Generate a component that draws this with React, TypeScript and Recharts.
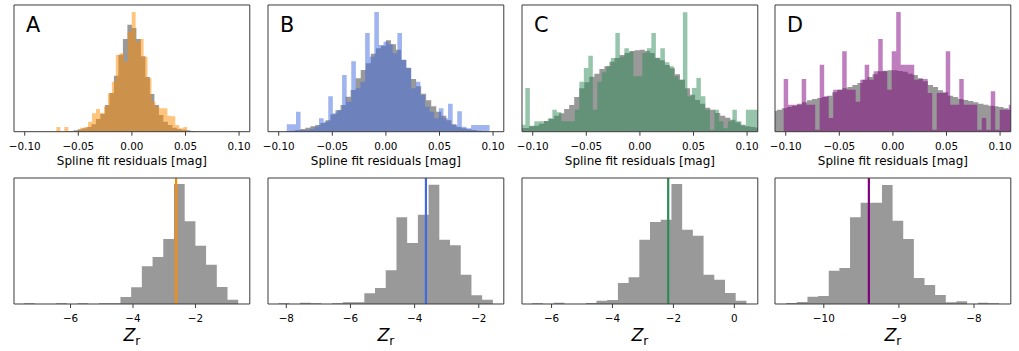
import React from 'react';
import { ComposedChart, Area, XAxis, YAxis, ReferenceLine } from 'recharts';

const FONT = "'DejaVu Sans', 'Bitstream Vera Sans', sans-serif";
const FRAME = '#3a3a3a';
const GRAY = '#999999';

// ---------------- Top row: spline fit residuals [mag] ----------------
const residTicks = [-0.1, -0.05, 0, 0.05, 0.1];
const residDomain: [number, number] = [-0.11, 0.11];
const residMax = 380;

// Panel A
const aAllStart = -0.063;
const aAllWidth = 0.0042;
const aAllCounts = [0, 2, 4, 7, 10, 14, 22, 38, 54, 80, 116, 168, 231, 278, 321, 311, 278, 226, 164, 113, 80, 50, 30, 20, 12, 8, 6, 4, 2];
const aSelStart = -0.0705;
const aSelWidth = 0.0037;
const aSelCounts = [14, 0, 14, 0, 0, 4, 12, 14, 30, 55, 68, 55, 75, 115, 150, 230, 235, 210, 300, 359, 270, 278, 225, 160, 90, 75, 70, 70, 48, 46, 20, 10, 14, 0];

// Panel B
const bAllStart = -0.094;
const bAllWidth = 0.0047;
const bAllCounts = [2, 3, 5, 8, 12, 16, 20, 26, 34, 52, 64, 80, 105, 125, 160, 185, 205, 234, 250, 258, 274, 262, 246, 216, 192, 158, 136, 114, 94, 76, 60, 48, 34, 22, 14, 10, 7, 5, 3, 2];
const bSelStart = -0.0925;
const bSelWidth = 0.0043;
const bSelCounts = [22, 22, 60, 5, 5, 8, 15, 40, 30, 106, 55, 65, 170, 90, 211, 130, 150, 296, 225, 359, 260, 270, 262, 235, 296, 215, 190, 130, 150, 110, 75, 60, 40, 70, 40, 84, 20, 61, 15, 10, 20, 20, 20, 20];

// Panel C
const cAllStart = -0.113;
const cAllWidth = 0.0047;
const cAllCounts = [11, 11, 16, 18, 24, 32, 38, 48, 55, 68, 80, 104, 130, 148, 165, 174, 188, 196, 210, 221, 230, 236, 242, 244, 246, 242, 236, 222, 214, 200, 190, 172, 156, 130, 111, 95, 84, 72, 66, 56, 48, 42, 36, 28, 21, 16, 14, 12];
const cSelStart = -0.1111;
const cSelWidth = 0.0042;
const cSelCounts = [21, 131, 18, 31, 31, 31, 40, 66, 58, 31, 31, 31, 66, 150, 191, 228, 66, 150, 178, 196, 221, 296, 225, 250, 240, 166, 166, 236, 250, 296, 220, 250, 208, 196, 166, 156, 358, 106, 131, 161, 106, 66, 6, 66, 31, 10, 31, 66, 31, 18, 66, 66, 66];

// Panel D
const dAllStart = -0.113;
const dAllWidth = 0.0047;
const dAllCounts = [62, 66, 70, 74, 78, 84, 88, 94, 98, 101, 104, 108, 118, 126, 130, 134, 140, 146, 156, 164, 172, 181, 183, 184, 184, 182, 180, 174, 170, 160, 151, 140, 134, 124, 118, 108, 104, 98, 95, 92, 88, 84, 81, 78, 76, 74, 70, 66];
const dSelStart = -0.1103;
const dSelWidth = 0.0042;
const dSelCounts = [0, 0, 158, 81, 81, 81, 158, 81, 81, 6, 201, 106, 41, 126, 126, 241, 126, 126, 90, 156, 201, 156, 181, 278, 181, 126, 241, 359, 201, 201, 201, 156, 158, 158, 116, 6, 116, 116, 241, 81, 81, 158, 81, 81, 81, 6, 41, 6, 121, 6, 66, 66, 81];

// ---------------- Bottom row: Z_r ----------------
const zMax = 378;

const zAStart = -7.487;
const zAWidth = 0.3428;
const zACounts = [2, 0, 0, 2, 0, 2, 0, 2, 2, 21, 50, 113, 141, 195, 360, 248, 175, 118, 51, 13];
const zAValue = -2.62;
const zADomain: [number, number] = [-7.81, -0.26];
const zATicks = [-6, -4, -2];

const zBStart = -8.24;
const zBWidth = 0.334;
const zBCounts = [2, 0, 4, 2, 0, 2, 5, 5, 32, 48, 101, 260, 183, 268, 358, 193, 176, 88, 26, 13];
const zBValue = -3.647;
const zBDomain: [number, number] = [-8.57, -1.22];
const zBTicks = [-8, -6, -4, -2];

const zCStart = -6.634;
const zCWidth = 0.3515;
const zCCounts = [2, 0, 4, 0, 0, 3, 10, 12, 63, 80, 193, 246, 253, 360, 223, 205, 88, 73, 33, 10];
const zCValue = -2.171;
const zCDomain: [number, number] = [-6.97, 0.77];
const zCTicks = [-6, -4, -2, 0];

const zDStart = -10.501;
const zDWidth = 0.1417;
const zDCounts = [3, 6, 22, 24, 100, 108, 260, 304, 304, 357, 250, 195, 78, 57, 27, 5, 8, 0, 4, 2];
const zDValue = -9.4;
const zDDomain: [number, number] = [-10.65, -7.51];
const zDTicks = [-10, -9, -8];

const panelLetters = ['A', 'B', 'C', 'D'];
const panelColors = ['#ff8c00', '#4169e1', '#2e8b57', '#800080'];

// ------------------------------------------------------------
type Hist = { start: number; width: number; counts: number[] };

function buildSteps(hists: Hist[], keys: string[]) {
  const xs: number[] = [];
  hists.forEach((h) => {
    for (let i = 0; i <= h.counts.length; i++) xs.push(+(h.start + i * h.width).toFixed(6));
  });
  const uniq = Array.from(new Set(xs)).sort((a, b) => a - b);
  return uniq.map((x) => {
    const row: Record<string, number> = { x };
    hists.forEach((h, j) => {
      const idx = Math.floor((x - h.start) / h.width + 1e-6);
      row[keys[j]] = idx >= 0 && idx < h.counts.length ? h.counts[idx] : 0;
    });
    return row;
  });
}

const minus = (s: string, v: number) => (v < 0 ? '\u2212' : '') + s;
const fmtResid = (v: number) => minus(Math.abs(v).toFixed(2), v);
const fmtZ = (v: number) => minus(String(Math.abs(v)), v);

type SeriesDef = { key: string; fill: string; opacity: number };

type PanelProps = {
  left: number;
  top: number;
  plotW: number;
  plotH: number;
  domain: [number, number];
  ticks: number[];
  fmt: (v: number) => string;
  yMax: number;
  data: Record<string, number>[];
  series: SeriesDef[];
  refX?: number;
  refColor?: string;
  letter?: string;
  xlabel: 'resid' | 'z';
};

function Panel(p: PanelProps) {
  const padX = 24;
  const padTop = 6;
  const axisH = 48;
  const W = p.plotW + 2 * padX;
  const H = padTop + p.plotH + axisH;

  const bottomLabel = (lp: any) => {
    const vb = lp && lp.viewBox ? lp.viewBox : lp;
    const cx = vb.x + vb.width / 2;
    if (p.xlabel === 'resid') {
      return (
        <text x={cx} y={vb.y + 33} textAnchor="middle" fontFamily={FONT} fontSize={12} fill="#000">
          Spline fit residuals [mag]
        </text>
      );
    }
    return (
      <text x={cx} y={vb.y + 37.4} textAnchor="middle" fontFamily={FONT} fontSize={17.4} fill="#000">
        <tspan fontStyle="italic">Z</tspan>
        <tspan fontSize={12.2} dy={3.4}>r</tspan>
      </text>
    );
  };

  const letterLabel = (lp: any) => {
    const vb = lp && lp.viewBox ? lp.viewBox : lp;
    if (!p.letter) return null;
    return (
      <text x={vb.x + 12} y={vb.y + 26.7} fontFamily={FONT} fontSize={20.8} fill="#000">
        {p.letter}
      </text>
    );
  };

  const frameProps = { xAxisId: 'b', yAxisId: 'l', stroke: FRAME, strokeWidth: 1 } as const;

  return (
    <div style={{ position: 'absolute', left: p.left - padX, top: p.top - padTop, width: W, height: H }}>
      <ComposedChart width={W} height={H} data={p.data} margin={{ top: padTop, right: padX, bottom: 0, left: padX }}>
        <XAxis
          xAxisId="b"
          dataKey="x"
          type="number"
          domain={p.domain}
          allowDataOverflow
          ticks={p.ticks}
          interval={0}
          tickFormatter={p.fmt}
          tickSize={4}
          tickMargin={7}
          height={axisH}
          axisLine={{ stroke: FRAME, strokeWidth: 1 }}
          tickLine={{ stroke: FRAME, strokeWidth: 1 }}
          tick={{ fill: '#000', fontSize: 10.4, fontFamily: FONT }}
          label={bottomLabel}
        />
        <YAxis yAxisId="l" type="number" domain={[0, p.yMax]} allowDataOverflow hide />
        {p.series.map((s) => (
          <Area
            key={s.key}
            xAxisId="b"
            yAxisId="l"
            type="stepAfter"
            dataKey={s.key}
            stroke="none"
            fill={s.fill}
            fillOpacity={s.opacity}
            dot={false}
            activeDot={false}
            isAnimationActive={false}
          />
        ))}
        {p.refX !== undefined && (
          <ReferenceLine xAxisId="b" yAxisId="l" x={p.refX} stroke={p.refColor} strokeWidth={2.2} />
        )}
        <ReferenceLine {...frameProps} x={p.domain[0]} />
        <ReferenceLine {...frameProps} x={p.domain[1]} />
        <ReferenceLine {...frameProps} y={p.yMax} label={letterLabel} />
      </ComposedChart>
    </div>
  );
}

const topHists: [Hist, Hist][] = [
  [{ start: aAllStart, width: aAllWidth, counts: aAllCounts }, { start: aSelStart, width: aSelWidth, counts: aSelCounts }],
  [{ start: bAllStart, width: bAllWidth, counts: bAllCounts }, { start: bSelStart, width: bSelWidth, counts: bSelCounts }],
  [{ start: cAllStart, width: cAllWidth, counts: cAllCounts }, { start: cSelStart, width: cSelWidth, counts: cSelCounts }],
  [{ start: dAllStart, width: dAllWidth, counts: dAllCounts }, { start: dSelStart, width: dSelWidth, counts: dSelCounts }],
];

const bottomDefs = [
  { hist: { start: zAStart, width: zAWidth, counts: zACounts }, value: zAValue, domain: zADomain, ticks: zATicks },
  { hist: { start: zBStart, width: zBWidth, counts: zBCounts }, value: zBValue, domain: zBDomain, ticks: zBTicks },
  { hist: { start: zCStart, width: zCWidth, counts: zCCounts }, value: zCValue, domain: zCDomain, ticks: zCTicks },
  { hist: { start: zDStart, width: zDWidth, counts: zDCounts }, value: zDValue, domain: zDDomain, ticks: zDTicks },
];

const colLeft = [14, 267.8, 521.7, 775.3];
const PLOT_W = 235.8;

export default function App() {
  return (
    <div
      style={{
        position: 'absolute',
        left: 0,
        top: 0,
        width: 1019,
        height: 351,
        background: '#fff',
        overflow: 'hidden',
        fontFamily: FONT,
      }}
    >
      {topHists.map((hs, i) => (
        <Panel
          key={'top' + i}
          left={colLeft[i]}
          top={5.3}
          plotW={PLOT_W}
          plotH={126.7}
          domain={residDomain}
          ticks={residTicks}
          fmt={fmtResid}
          yMax={residMax}
          data={buildSteps(hs, ['all', 'sel'])}
          series={[
            { key: 'all', fill: GRAY, opacity: 1 },
            { key: 'sel', fill: panelColors[i], opacity: 0.5 },
          ]}
          letter={panelLetters[i]}
          xlabel="resid"
        />
      ))}
      {bottomDefs.map((d, i) => (
        <Panel
          key={'bot' + i}
          left={colLeft[i]}
          top={178.3}
          plotW={PLOT_W}
          plotH={126}
          domain={d.domain}
          ticks={d.ticks}
          fmt={fmtZ}
          yMax={zMax}
          data={buildSteps([d.hist], ['z'])}
          series={[{ key: 'z', fill: GRAY, opacity: 1 }]}
          refX={d.value}
          refColor={panelColors[i]}
          xlabel="z"
        />
      ))}
    </div>
  );
}
